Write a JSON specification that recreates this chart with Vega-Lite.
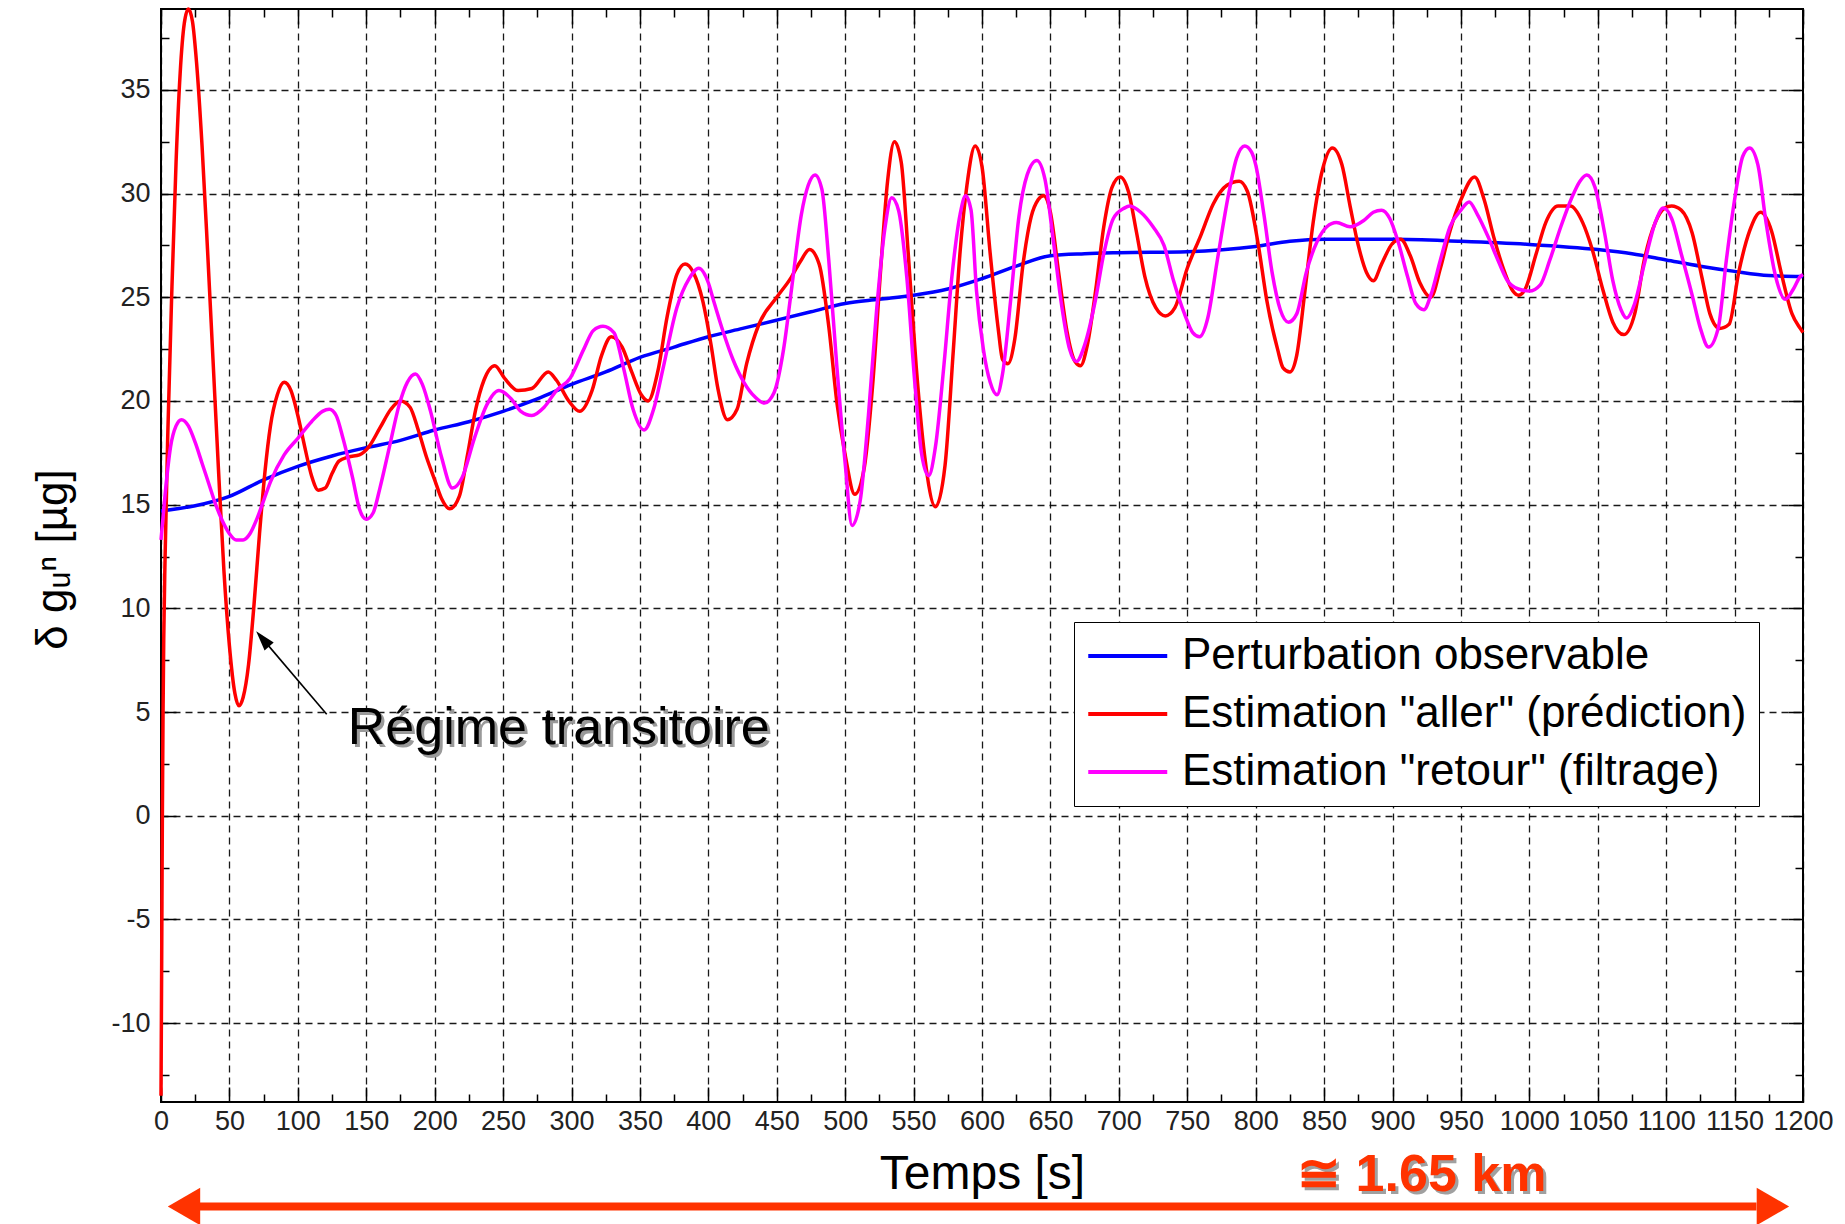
{
 "$schema": "https://vega.github.io/schema/vega-lite/v6.json",
 "width": 1642,
 "height": 1093,
 "autosize": {"type": "none"},
 "padding": {"left": 161, "top": 9, "right": 42, "bottom": 122},
 "background": "white",
 "config": {"view": {"stroke": "black", "strokeWidth": 2}, "font": "Liberation Sans"},
 "resolve": {"axis": {"x": "independent", "y": "independent"}},
 "datasets": {
  "curves": [
   {"s":"p","t":0,"v":14.7},{"s":"p","t":25,"v":14.95},{"s":"p","t":50,"v":15.4},{"s":"p","t":75,"v":16.2},{"s":"p","t":100,"v":16.85},{"s":"p","t":125,"v":17.35},{"s":"p","t":150,"v":17.75},{"s":"p","t":175,"v":18.1},{"s":"p","t":200,"v":18.6},{"s":"p","t":225,"v":19.0},{"s":"p","t":250,"v":19.5},{"s":"p","t":275,"v":20.1},{"s":"p","t":300,"v":20.8},{"s":"p","t":325,"v":21.4},{"s":"p","t":350,"v":22.1},{"s":"p","t":375,"v":22.6},{"s":"p","t":400,"v":23.1},{"s":"p","t":425,"v":23.5},{"s":"p","t":450,"v":23.9},{"s":"p","t":475,"v":24.3},{"s":"p","t":500,"v":24.7},{"s":"p","t":525,"v":24.9},{"s":"p","t":550,"v":25.1},{"s":"p","t":575,"v":25.4},{"s":"p","t":600,"v":25.9},{"s":"p","t":625,"v":26.5},{"s":"p","t":650,"v":27.0},{"s":"p","t":675,"v":27.1},{"s":"p","t":700,"v":27.15},{"s":"p","t":750,"v":27.2},{"s":"p","t":800,"v":27.45},{"s":"p","t":825,"v":27.7},{"s":"p","t":850,"v":27.8},{"s":"p","t":900,"v":27.8},{"s":"p","t":950,"v":27.7},{"s":"p","t":1000,"v":27.55},{"s":"p","t":1050,"v":27.3},{"s":"p","t":1075,"v":27.1},{"s":"p","t":1100,"v":26.8},{"s":"p","t":1125,"v":26.5},{"s":"p","t":1150,"v":26.25},{"s":"p","t":1175,"v":26.05},{"s":"p","t":1200,"v":26.0},
   {"s":"a","t":0,"v":-13.5},{"s":"a","t":0.5,"v":-7},{"s":"a","t":1,"v":0},{"s":"a","t":1.5,"v":5},{"s":"a","t":2,"v":8.5},{"s":"a","t":3,"v":12.5},{"s":"a","t":5,"v":18.5},{"s":"a","t":8,"v":25.5},{"s":"a","t":11,"v":31.5},{"s":"a","t":14,"v":35.8},{"s":"a","t":17,"v":38.2},{"s":"a","t":20,"v":38.9},{"s":"a","t":23,"v":38.3},{"s":"a","t":26,"v":36.3},{"s":"a","t":30,"v":32.3},{"s":"a","t":34,"v":27.3},{"s":"a","t":38,"v":22},{"s":"a","t":42,"v":16.7},{"s":"a","t":46,"v":11.8},{"s":"a","t":50,"v":8.2},{"s":"a","t":54,"v":5.9},{"s":"a","t":57,"v":5.3},{"s":"a","t":60,"v":5.7},{"s":"a","t":64,"v":7.3},{"s":"a","t":68,"v":10.2},{"s":"a","t":72,"v":13.6},{"s":"a","t":76,"v":16.6},{"s":"a","t":80,"v":18.8},{"s":"a","t":85,"v":20.3},{"s":"a","t":90,"v":20.9},{"s":"a","t":95,"v":20.5},{"s":"a","t":100,"v":19.3},{"s":"a","t":105,"v":17.8},{"s":"a","t":110,"v":16.4},{"s":"a","t":115,"v":15.7},{"s":"a","t":120,"v":15.8},{"s":"a","t":125,"v":16.5},{"s":"a","t":130,"v":17.1},{"s":"a","t":137,"v":17.3},{"s":"a","t":145,"v":17.4},{"s":"a","t":152,"v":17.8},{"s":"a","t":160,"v":18.7},{"s":"a","t":168,"v":19.6},{"s":"a","t":175,"v":20.0},{"s":"a","t":182,"v":19.7},{"s":"a","t":188,"v":18.6},{"s":"a","t":194,"v":17.3},{"s":"a","t":200,"v":16.2},{"s":"a","t":205,"v":15.3},{"s":"a","t":211,"v":14.8},{"s":"a","t":218,"v":15.4},{"s":"a","t":224,"v":17.4},{"s":"a","t":230,"v":19.6},{"s":"a","t":236,"v":21.0},{"s":"a","t":244,"v":21.7},{"s":"a","t":251,"v":21.1},{"s":"a","t":261,"v":20.5},{"s":"a","t":271,"v":20.6},{"s":"a","t":283,"v":21.4},{"s":"a","t":289,"v":21.0},{"s":"a","t":298,"v":20.0},{"s":"a","t":306,"v":19.5},{"s":"a","t":315,"v":20.5},{"s":"a","t":322,"v":22.2},{"s":"a","t":329,"v":23.1},{"s":"a","t":337,"v":22.6},{"s":"a","t":344,"v":21.4},{"s":"a","t":351,"v":20.3},{"s":"a","t":356,"v":20.0},{"s":"a","t":363,"v":21.4},{"s":"a","t":370,"v":24.1},{"s":"a","t":377,"v":26.1},{"s":"a","t":383,"v":26.6},{"s":"a","t":389,"v":26.2},{"s":"a","t":396,"v":24.8},{"s":"a","t":402,"v":22.7},{"s":"a","t":407,"v":20.6},{"s":"a","t":414,"v":19.1},{"s":"a","t":421,"v":19.6},{"s":"a","t":428,"v":21.8},{"s":"a","t":437,"v":23.7},{"s":"a","t":450,"v":25.0},{"s":"a","t":460,"v":25.9},{"s":"a","t":467,"v":26.7},{"s":"a","t":474,"v":27.3},{"s":"a","t":481,"v":26.6},{"s":"a","t":488,"v":23.6},{"s":"a","t":494,"v":19.9},{"s":"a","t":500,"v":17.4},{"s":"a","t":507,"v":15.5},{"s":"a","t":514,"v":16.8},{"s":"a","t":520,"v":20.7},{"s":"a","t":526,"v":26.4},{"s":"a","t":531,"v":30.6},{"s":"a","t":536,"v":32.5},{"s":"a","t":541,"v":31.5},{"s":"a","t":546,"v":27.2},{"s":"a","t":552,"v":21.6},{"s":"a","t":558,"v":17.4},{"s":"a","t":566,"v":14.9},{"s":"a","t":573,"v":16.9},{"s":"a","t":579,"v":22.4},{"s":"a","t":584,"v":27.2},{"s":"a","t":589,"v":30.4},{"s":"a","t":595,"v":32.3},{"s":"a","t":600,"v":31.3},{"s":"a","t":606,"v":27.1},{"s":"a","t":612,"v":23.4},{"s":"a","t":615,"v":22.0},{"s":"a","t":619,"v":21.8},{"s":"a","t":624,"v":23.0},{"s":"a","t":630,"v":26.6},{"s":"a","t":636,"v":28.9},{"s":"a","t":641,"v":29.7},{"s":"a","t":645,"v":29.9},{"s":"a","t":650,"v":29.1},{"s":"a","t":656,"v":26.2},{"s":"a","t":662,"v":23.4},{"s":"a","t":668,"v":21.9},{"s":"a","t":672,"v":21.7},{"s":"a","t":677,"v":22.7},{"s":"a","t":683,"v":25.3},{"s":"a","t":689,"v":28.4},{"s":"a","t":695,"v":30.3},{"s":"a","t":701,"v":30.8},{"s":"a","t":707,"v":30.1},{"s":"a","t":713,"v":28.1},{"s":"a","t":719,"v":26.0},{"s":"a","t":727,"v":24.5},{"s":"a","t":734,"v":24.1},{"s":"a","t":741,"v":24.5},{"s":"a","t":750,"v":26.4},{"s":"a","t":760,"v":28.0},{"s":"a","t":769,"v":29.5},{"s":"a","t":779,"v":30.4},{"s":"a","t":788,"v":30.6},{"s":"a","t":794,"v":30.1},{"s":"a","t":802,"v":27.5},{"s":"a","t":808,"v":24.9},{"s":"a","t":816,"v":22.5},{"s":"a","t":820,"v":21.6},{"s":"a","t":825,"v":21.4},{"s":"a","t":830,"v":22.2},{"s":"a","t":836,"v":25.3},{"s":"a","t":842,"v":28.6},{"s":"a","t":849,"v":31.2},{"s":"a","t":856,"v":32.2},{"s":"a","t":863,"v":31.4},{"s":"a","t":869,"v":29.4},{"s":"a","t":875,"v":27.5},{"s":"a","t":881,"v":26.2},{"s":"a","t":886,"v":25.8},{"s":"a","t":892,"v":26.6},{"s":"a","t":900,"v":27.6},{"s":"a","t":906,"v":27.8},{"s":"a","t":913,"v":27.0},{"s":"a","t":920,"v":25.7},{"s":"a","t":928,"v":25.0},{"s":"a","t":935,"v":26.4},{"s":"a","t":942,"v":28.2},{"s":"a","t":950,"v":29.7},{"s":"a","t":960,"v":30.8},{"s":"a","t":967,"v":29.7},{"s":"a","t":974,"v":27.9},{"s":"a","t":982,"v":26.2},{"s":"a","t":988,"v":25.3},{"s":"a","t":992,"v":25.1},{"s":"a","t":997,"v":25.4},{"s":"a","t":1005,"v":27.1},{"s":"a","t":1012,"v":28.6},{"s":"a","t":1021,"v":29.4},{"s":"a","t":1030,"v":29.4},{"s":"a","t":1039,"v":28.6},{"s":"a","t":1046,"v":27.3},{"s":"a","t":1054,"v":25.3},{"s":"a","t":1061,"v":23.8},{"s":"a","t":1069,"v":23.2},{"s":"a","t":1077,"v":24.2},{"s":"a","t":1084,"v":26.8},{"s":"a","t":1092,"v":28.6},{"s":"a","t":1099,"v":29.3},{"s":"a","t":1104,"v":29.4},{"s":"a","t":1111,"v":29.2},{"s":"a","t":1119,"v":28.1},{"s":"a","t":1126,"v":26.0},{"s":"a","t":1132,"v":24.2},{"s":"a","t":1139,"v":23.5},{"s":"a","t":1146,"v":23.7},{"s":"a","t":1153,"v":26.2},{"s":"a","t":1161,"v":28.2},{"s":"a","t":1169,"v":29.1},{"s":"a","t":1177,"v":28.2},{"s":"a","t":1184,"v":26.2},{"s":"a","t":1192,"v":24.2},{"s":"a","t":1198,"v":23.5},{"s":"a","t":1200,"v":23.3},
   {"s":"r","t":0,"v":13.3},{"s":"r","t":3,"v":15.5},{"s":"r","t":7,"v":17.8},{"s":"r","t":11,"v":18.8},{"s":"r","t":15,"v":19.1},{"s":"r","t":20,"v":18.8},{"s":"r","t":25,"v":18.0},{"s":"r","t":30,"v":17.0},{"s":"r","t":35,"v":16.0},{"s":"r","t":40,"v":15.0},{"s":"r","t":45,"v":14.2},{"s":"r","t":50,"v":13.6},{"s":"r","t":55,"v":13.3},{"s":"r","t":60,"v":13.3},{"s":"r","t":65,"v":13.6},{"s":"r","t":70,"v":14.3},{"s":"r","t":75,"v":15.2},{"s":"r","t":80,"v":16.1},{"s":"r","t":90,"v":17.4},{"s":"r","t":100,"v":18.2},{"s":"r","t":110,"v":19.0},{"s":"r","t":118,"v":19.5},{"s":"r","t":123,"v":19.6},{"s":"r","t":128,"v":19.3},{"s":"r","t":133,"v":18.2},{"s":"r","t":140,"v":16.3},{"s":"r","t":145,"v":14.8},{"s":"r","t":150,"v":14.3},{"s":"r","t":155,"v":14.6},{"s":"r","t":160,"v":15.8},{"s":"r","t":167,"v":17.8},{"s":"r","t":174,"v":19.8},{"s":"r","t":180,"v":20.9},{"s":"r","t":186,"v":21.3},{"s":"r","t":191,"v":20.8},{"s":"r","t":197,"v":19.5},{"s":"r","t":205,"v":17.3},{"s":"r","t":213,"v":15.8},{"s":"r","t":220,"v":16.3},{"s":"r","t":229,"v":18.2},{"s":"r","t":238,"v":19.8},{"s":"r","t":247,"v":20.5},{"s":"r","t":256,"v":20.1},{"s":"r","t":263,"v":19.5},{"s":"r","t":271,"v":19.3},{"s":"r","t":280,"v":19.7},{"s":"r","t":289,"v":20.5},{"s":"r","t":299,"v":21.1},{"s":"r","t":309,"v":22.5},{"s":"r","t":316,"v":23.4},{"s":"r","t":323,"v":23.6},{"s":"r","t":331,"v":23.3},{"s":"r","t":338,"v":21.6},{"s":"r","t":345,"v":19.6},{"s":"r","t":353,"v":18.6},{"s":"r","t":360,"v":19.6},{"s":"r","t":367,"v":21.6},{"s":"r","t":377,"v":24.5},{"s":"r","t":386,"v":25.9},{"s":"r","t":393,"v":26.4},{"s":"r","t":400,"v":25.7},{"s":"r","t":404,"v":24.8},{"s":"r","t":411,"v":23.3},{"s":"r","t":418,"v":22.0},{"s":"r","t":426,"v":20.9},{"s":"r","t":434,"v":20.2},{"s":"r","t":441,"v":19.9},{"s":"r","t":448,"v":20.4},{"s":"r","t":455,"v":22.5},{"s":"r","t":461,"v":25.5},{"s":"r","t":468,"v":29.0},{"s":"r","t":473,"v":30.4},{"s":"r","t":478,"v":30.9},{"s":"r","t":483,"v":30.2},{"s":"r","t":488,"v":26.8},{"s":"r","t":494,"v":21.6},{"s":"r","t":500,"v":17.0},{"s":"r","t":505,"v":14.0},{"s":"r","t":511,"v":15.2},{"s":"r","t":517,"v":19.3},{"s":"r","t":523,"v":24.4},{"s":"r","t":529,"v":28.3},{"s":"r","t":534,"v":29.8},{"s":"r","t":539,"v":29.2},{"s":"r","t":545,"v":26.0},{"s":"r","t":551,"v":20.8},{"s":"r","t":556,"v":17.4},{"s":"r","t":561,"v":16.4},{"s":"r","t":566,"v":17.8},{"s":"r","t":572,"v":21.6},{"s":"r","t":578,"v":26.0},{"s":"r","t":584,"v":29.0},{"s":"r","t":588,"v":29.9},{"s":"r","t":592,"v":29.2},{"s":"r","t":596,"v":25.3},{"s":"r","t":601,"v":22.5},{"s":"r","t":606,"v":20.9},{"s":"r","t":611,"v":20.3},{"s":"r","t":615,"v":21.3},{"s":"r","t":621,"v":24.9},{"s":"r","t":627,"v":28.9},{"s":"r","t":633,"v":30.9},{"s":"r","t":640,"v":31.6},{"s":"r","t":646,"v":30.7},{"s":"r","t":652,"v":27.8},{"s":"r","t":658,"v":24.7},{"s":"r","t":664,"v":22.5},{"s":"r","t":669,"v":21.9},{"s":"r","t":675,"v":22.7},{"s":"r","t":683,"v":24.9},{"s":"r","t":689,"v":27.1},{"s":"r","t":696,"v":28.8},{"s":"r","t":704,"v":29.3},{"s":"r","t":708,"v":29.4},{"s":"r","t":716,"v":29.1},{"s":"r","t":725,"v":28.4},{"s":"r","t":733,"v":27.5},{"s":"r","t":740,"v":25.8},{"s":"r","t":748,"v":24.2},{"s":"r","t":754,"v":23.3},{"s":"r","t":759,"v":23.1},{"s":"r","t":765,"v":24.0},{"s":"r","t":772,"v":26.8},{"s":"r","t":780,"v":29.9},{"s":"r","t":786,"v":31.7},{"s":"r","t":792,"v":32.3},{"s":"r","t":797,"v":32.0},{"s":"r","t":800,"v":31.4},{"s":"r","t":806,"v":29.0},{"s":"r","t":812,"v":26.2},{"s":"r","t":818,"v":24.4},{"s":"r","t":824,"v":23.8},{"s":"r","t":830,"v":24.2},{"s":"r","t":837,"v":26.2},{"s":"r","t":845,"v":27.7},{"s":"r","t":852,"v":28.4},{"s":"r","t":859,"v":28.6},{"s":"r","t":869,"v":28.4},{"s":"r","t":879,"v":28.7},{"s":"r","t":886,"v":29.1},{"s":"r","t":892,"v":29.2},{"s":"r","t":898,"v":28.8},{"s":"r","t":904,"v":27.7},{"s":"r","t":911,"v":26.0},{"s":"r","t":917,"v":24.7},{"s":"r","t":923,"v":24.4},{"s":"r","t":928,"v":25.1},{"s":"r","t":935,"v":26.8},{"s":"r","t":942,"v":28.4},{"s":"r","t":950,"v":29.2},{"s":"r","t":956,"v":29.6},{"s":"r","t":962,"v":29.0},{"s":"r","t":970,"v":27.9},{"s":"r","t":977,"v":26.8},{"s":"r","t":984,"v":25.8},{"s":"r","t":992,"v":25.4},{"s":"r","t":1000,"v":25.3},{"s":"r","t":1008,"v":25.6},{"s":"r","t":1015,"v":26.8},{"s":"r","t":1023,"v":28.4},{"s":"r","t":1031,"v":29.8},{"s":"r","t":1037,"v":30.6},{"s":"r","t":1042,"v":30.9},{"s":"r","t":1048,"v":30.3},{"s":"r","t":1055,"v":28.1},{"s":"r","t":1061,"v":25.8},{"s":"r","t":1067,"v":24.4},{"s":"r","t":1071,"v":24.0},{"s":"r","t":1077,"v":24.7},{"s":"r","t":1084,"v":26.6},{"s":"r","t":1092,"v":28.6},{"s":"r","t":1098,"v":29.3},{"s":"r","t":1104,"v":28.8},{"s":"r","t":1111,"v":27.1},{"s":"r","t":1119,"v":25.1},{"s":"r","t":1125,"v":23.5},{"s":"r","t":1131,"v":22.6},{"s":"r","t":1138,"v":23.5},{"s":"r","t":1144,"v":26.8},{"s":"r","t":1150,"v":29.7},{"s":"r","t":1156,"v":31.8},{"s":"r","t":1161,"v":32.2},{"s":"r","t":1167,"v":31.4},{"s":"r","t":1173,"v":28.6},{"s":"r","t":1180,"v":26.0},{"s":"r","t":1187,"v":24.9},{"s":"r","t":1193,"v":25.4},{"s":"r","t":1198,"v":26.0},{"s":"r","t":1200,"v":26.1}
  ],
  "dummy": [{"t": 0, "v": 0}],
  "pointer": [{"ta": 121.1, "va": 4.9, "tb": 74.3, "vb": 8.53}],
  "pointerHead": [{"t": 74.3, "v": 8.53}],
  "note": [{"t": 136.5, "v": 3.45, "label": "Régime transitoire"}],
  "dist": [{"t": 921.4, "v": -18.07, "label": "≅ 1.65 km"}],
  "span": [{"ta": 28.3, "tb": 1166, "v": -18.84}],
  "spanLeft": [{"t": 16.8, "v": -18.84}],
  "spanRight": [{"t": 1178, "v": -18.84}]
 },
 "layer": [
  {
   "data": {"name": "curves"},
   "mark": {"type": "line", "interpolate": "monotone", "strokeWidth": 3.5},
   "encoding": {
    "x": {"field": "t", "type": "quantitative", "scale": {"domain": [0, 1200], "nice": false, "zero": false},
     "axis": {"orient": "bottom", "title": "Temps [s]", "values": [0,50,100,150,200,250,300,350,400,450,500,550,600,650,700,750,800,850,900,950,1000,1050,1100,1150,1200],
      "labelExpr": "toString(datum.value)",
      "ticks": false, "domain": false, "grid": true, "gridColor": "black", "gridDash": [7, 5], "gridWidth": 1.3, "gridOpacity": 0.9,
      "labelFont": "Liberation Sans", "labelFontSize": 27, "labelColor": "#222", "labelPadding": 6, "labelFlush": false, "labelOverlap": false,
      "titleFont": "Liberation Sans", "titleFontSize": 48, "titleFontWeight": "normal", "titleColor": "black",
      "titleX": 821, "titleY": 86, "titleBaseline": "alphabetic", "titleAlign": "center"}},
    "y": {"field": "v", "type": "quantitative", "scale": {"domain": [-13.8, 38.9], "nice": false, "zero": false},
     "axis": {"orient": "left", "title": "δ gᵤⁿ [µg]", "values": [-10,-5,0,5,10,15,20,25,30,35],
      "labelExpr": "toString(datum.value)",
      "ticks": false, "domain": false, "grid": true, "gridColor": "black", "gridDash": [7, 5], "gridWidth": 1.3, "gridOpacity": 0.9,
      "labelFont": "Liberation Sans", "labelFontSize": 27, "labelColor": "#222", "labelPadding": 11,
      "titleFont": "Liberation Sans", "titleFontSize": 44, "titleFontWeight": "normal", "titleColor": "black",
      "titleX": -108, "titleY": 550, "titleAngle": 270, "titleBaseline": "middle", "titleAlign": "center"}},
    "color": {"field": "s", "type": "nominal",
     "scale": {"domain": ["p", "a", "r"], "range": ["#0000FF", "#FF0000", "#FF00FF"]},
     "legend": {"orient": "none", "legendX": 913, "legendY": 613, "title": null,
      "labelExpr": "datum.value == 'p' ? 'Perturbation observable' : datum.value == 'a' ? 'Estimation \"aller\" (prédiction)' : 'Estimation \"retour\" (filtrage)'",
      "symbolType": "M-1,0H3", "symbolSize": 1560, "symbolStrokeWidth": 4,
      "labelFont": "Liberation Sans", "labelFontSize": 44, "labelColor": "black", "labelOffset": 52, "labelLimit": 0,
      "rowPadding": 14, "padding": 12, "strokeColor": "black", "fillColor": "white"}}
   }
  },
  {
   "data": {"name": "dummy"},
   "mark": {"type": "point", "opacity": 0},
   "encoding": {
    "x": {"field": "t", "type": "quantitative", "scale": {"domain": [0, 1200], "nice": false, "zero": false},
     "axis": {"orient": "bottom", "title": null, "labels": false, "grid": false, "domain": false, "ticks": true, "tickSize": -15, "tickWidth": 1.5, "tickColor": "black",
      "values": [0,50,100,150,200,250,300,350,400,450,500,550,600,650,700,750,800,850,900,950,1000,1050,1100,1150,1200]}},
    "y": {"field": "v", "type": "quantitative", "scale": {"domain": [-13.8, 38.9], "nice": false, "zero": false},
     "axis": {"orient": "left", "title": null, "labels": false, "grid": false, "domain": false, "ticks": true, "tickSize": -15, "tickWidth": 1.5, "tickColor": "black",
      "values": [-10,-5,0,5,10,15,20,25,30,35]}}
   }
  },
  {
   "data": {"name": "dummy"},
   "mark": {"type": "point", "opacity": 0},
   "encoding": {
    "x": {"field": "t", "type": "quantitative", "scale": {"domain": [0, 1200], "nice": false, "zero": false},
     "axis": {"orient": "bottom", "title": null, "labels": false, "grid": false, "domain": false, "ticks": true, "tickSize": -8, "tickWidth": 1.5, "tickColor": "black",
      "values": [25,75,125,175,225,275,325,375,425,475,525,575,625,675,725,775,825,875,925,975,1025,1075,1125,1175]}},
    "y": {"field": "v", "type": "quantitative", "scale": {"domain": [-13.8, 38.9], "nice": false, "zero": false},
     "axis": {"orient": "left", "title": null, "labels": false, "grid": false, "domain": false, "ticks": true, "tickSize": -8, "tickWidth": 1.5, "tickColor": "black",
      "values": [-12.5,-7.5,-2.5,2.5,7.5,12.5,17.5,22.5,27.5,32.5,37.5]}}
   }
  },
  {
   "data": {"name": "dummy"},
   "mark": {"type": "point", "opacity": 0},
   "encoding": {
    "x": {"field": "t", "type": "quantitative", "scale": {"domain": [0, 1200], "nice": false, "zero": false},
     "axis": {"orient": "top", "title": null, "labels": false, "grid": false, "domain": false, "ticks": true, "tickSize": -15, "tickWidth": 1.5, "tickColor": "black",
      "values": [0,50,100,150,200,250,300,350,400,450,500,550,600,650,700,750,800,850,900,950,1000,1050,1100,1150,1200]}},
    "y": {"field": "v", "type": "quantitative", "scale": {"domain": [-13.8, 38.9], "nice": false, "zero": false},
     "axis": {"orient": "right", "title": null, "labels": false, "grid": false, "domain": false, "ticks": true, "tickSize": -15, "tickWidth": 1.5, "tickColor": "black",
      "values": [-10,-5,0,5,10,15,20,25,30,35]}}
   }
  },
  {
   "data": {"name": "dummy"},
   "mark": {"type": "point", "opacity": 0},
   "encoding": {
    "x": {"field": "t", "type": "quantitative", "scale": {"domain": [0, 1200], "nice": false, "zero": false},
     "axis": {"orient": "top", "title": null, "labels": false, "grid": false, "domain": false, "ticks": true, "tickSize": -8, "tickWidth": 1.5, "tickColor": "black",
      "values": [25,75,125,175,225,275,325,375,425,475,525,575,625,675,725,775,825,875,925,975,1025,1075,1125,1175]}},
    "y": {"field": "v", "type": "quantitative", "scale": {"domain": [-13.8, 38.9], "nice": false, "zero": false},
     "axis": {"orient": "right", "title": null, "labels": false, "grid": false, "domain": false, "ticks": true, "tickSize": -8, "tickWidth": 1.5, "tickColor": "black",
      "values": [-12.5,-7.5,-2.5,2.5,7.5,12.5,17.5,22.5,27.5,32.5,37.5]}}
   }
  },
  {
   "data": {"name": "pointer"},
   "mark": {"type": "rule", "color": "black", "strokeWidth": 1.6},
   "encoding": {
    "x": {"field": "ta", "type": "quantitative", "scale": {"domain": [0, 1200], "nice": false, "zero": false}, "axis": null},
    "y": {"field": "va", "type": "quantitative", "scale": {"domain": [-13.8, 38.9], "nice": false, "zero": false}, "axis": null},
    "x2": {"field": "tb"},
    "y2": {"field": "vb"}
   }
  },
  {
   "data": {"name": "pointerHead"},
   "mark": {"type": "point", "shape": "M0,-1L0.6,1L-0.6,1Z", "size": 400, "angle": 319.7, "filled": true, "color": "black", "opacity": 1},
   "encoding": {
    "x": {"field": "t", "type": "quantitative", "scale": {"domain": [0, 1200], "nice": false, "zero": false}, "axis": null},
    "y": {"field": "v", "type": "quantitative", "scale": {"domain": [-13.8, 38.9], "nice": false, "zero": false}, "axis": null}
   }
  },
  {
   "data": {"name": "note"},
   "mark": {"type": "text", "align": "left", "baseline": "alphabetic", "font": "Liberation Sans", "fontSize": 52, "color": "#9a9a9a", "dx": 3, "dy": 3},
   "encoding": {
    "x": {"field": "t", "type": "quantitative", "scale": {"domain": [0, 1200], "nice": false, "zero": false}, "axis": null},
    "y": {"field": "v", "type": "quantitative", "scale": {"domain": [-13.8, 38.9], "nice": false, "zero": false}, "axis": null},
    "text": {"field": "label"}
   }
  },
  {
   "data": {"name": "note"},
   "mark": {"type": "text", "align": "left", "baseline": "alphabetic", "font": "Liberation Sans", "fontSize": 52, "color": "black"},
   "encoding": {
    "x": {"field": "t", "type": "quantitative", "scale": {"domain": [0, 1200], "nice": false, "zero": false}, "axis": null},
    "y": {"field": "v", "type": "quantitative", "scale": {"domain": [-13.8, 38.9], "nice": false, "zero": false}, "axis": null},
    "text": {"field": "label"}
   }
  },
  {
   "data": {"name": "dist"},
   "mark": {"type": "text", "align": "center", "baseline": "alphabetic", "font": "Liberation Sans", "fontSize": 52, "fontWeight": "bold", "color": "#a0a0a0", "dx": 3, "dy": 3},
   "encoding": {
    "x": {"field": "t", "type": "quantitative", "scale": {"domain": [0, 1200], "nice": false, "zero": false}, "axis": null},
    "y": {"field": "v", "type": "quantitative", "scale": {"domain": [-13.8, 38.9], "nice": false, "zero": false}, "axis": null},
    "text": {"field": "label"}
   }
  },
  {
   "data": {"name": "dist"},
   "mark": {"type": "text", "align": "center", "baseline": "alphabetic", "font": "Liberation Sans", "fontSize": 52, "fontWeight": "bold", "color": "#FF3300"},
   "encoding": {
    "x": {"field": "t", "type": "quantitative", "scale": {"domain": [0, 1200], "nice": false, "zero": false}, "axis": null},
    "y": {"field": "v", "type": "quantitative", "scale": {"domain": [-13.8, 38.9], "nice": false, "zero": false}, "axis": null},
    "text": {"field": "label"}
   }
  },
  {
   "data": {"name": "span"},
   "mark": {"type": "rule", "color": "#FF3300", "strokeWidth": 8},
   "encoding": {
    "x": {"field": "ta", "type": "quantitative", "scale": {"domain": [0, 1200], "nice": false, "zero": false}, "axis": null},
    "x2": {"field": "tb"},
    "y": {"field": "v", "type": "quantitative", "scale": {"domain": [-13.8, 38.9], "nice": false, "zero": false}, "axis": null}
   }
  },
  {
   "data": {"name": "spanLeft"},
   "mark": {"type": "point", "shape": "triangle-left", "size": 1400, "filled": true, "color": "#FF3300", "opacity": 1},
   "encoding": {
    "x": {"field": "t", "type": "quantitative", "scale": {"domain": [0, 1200], "nice": false, "zero": false}, "axis": null},
    "y": {"field": "v", "type": "quantitative", "scale": {"domain": [-13.8, 38.9], "nice": false, "zero": false}, "axis": null}
   }
  },
  {
   "data": {"name": "spanRight"},
   "mark": {"type": "point", "shape": "triangle-right", "size": 1400, "filled": true, "color": "#FF3300", "opacity": 1},
   "encoding": {
    "x": {"field": "t", "type": "quantitative", "scale": {"domain": [0, 1200], "nice": false, "zero": false}, "axis": null},
    "y": {"field": "v", "type": "quantitative", "scale": {"domain": [-13.8, 38.9], "nice": false, "zero": false}, "axis": null}
   }
  }
 ]
}
